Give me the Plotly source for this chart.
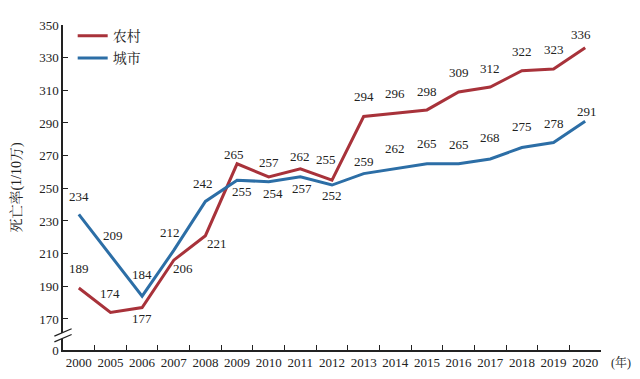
import plotly.graph_objects as go

years = ["2000", "2005", "2006", "2007", "2008", "2009", "2010", "2011", "2012",
         "2013", "2014", "2015", "2016", "2017", "2018", "2019", "2020"]
rural = [189, 174, 177, 206, 221, 265, 257, 262, 255, 294, 296, 298, 309, 312, 322, 323, 336]
urban = [234, 209, 184, 212, 242, 255, 254, 257, 252, 259, 262, 265, 265, 268, 275, 278, 291]
y_ticks = [170, 190, 210, 230, 250, 270, 290, 310, 330, 350]
rural_name = "农村"
urban_name = "城市"

# label offsets in pixels (dx, dy-up)
rural_off = [(0, 19), (0, 19), (0, -11), (9, -8), (12, -8), (-3, 9), (0, 14), (0, 12), (-6, 21),
             (0, 20), (0, 20), (0, 18), (0, 19), (0, 19), (0, 19), (0, 20), (-4, 13)]
urban_off = [(0, 18), (3, 20), (0, 22), (-4, 18), (-2, 18), (5, -11), (4, -12), (2, -12), (0, -10),
             (0, 12), (0, 20), (0, 20), (0, 19), (0, 21), (0, 21), (0, 19), (2, 10)]

RED = "#A8323A"
BLUE = "#2C6EA6"
FONT = "Liberation Serif, Noto Serif CJK SC, Noto Sans CJK SC, serif"
BREAK_POS = 151  # axis-break position of the "0" tick

fig = go.Figure()
fig.add_trace(go.Scatter(x=years, y=rural, mode="lines", name=rural_name,
                         line=dict(color=RED, width=3), legendgroup="a"))
fig.add_trace(go.Scatter(x=years, y=urban, mode="lines", name=urban_name,
                         line=dict(color=BLUE, width=3), legendgroup="b"))

ann = []
for ys, offs in ((rural, rural_off), (urban, urban_off)):
    for i, (v, (dx, dy)) in enumerate(zip(ys, offs)):
        ann.append(dict(x=i, y=v, text=str(v), showarrow=False, xshift=dx, yshift=dy,
                        font=dict(family=FONT, size=13, color="#222")))
ann.append(dict(xref="paper", yref="paper", x=1.0, y=0, xshift=8, yshift=-12, xanchor="left",
                yanchor="middle", text="(年)", showarrow=False,
                font=dict(family=FONT, size=12, color="#222")))

shapes = [
    dict(type="path", xref="paper", yref="y",
         path="M -0.016 156 L 0.016 160.5 L 0.016 164 L -0.016 159.5 Z",
         fillcolor="white", line=dict(width=0), layer="above"),
]
for base in (156, 159.5):
    shapes.append(dict(type="line", xref="paper", yref="y", x0=-0.016, x1=0.016,
                       y0=base, y1=base + 4.5, line=dict(color="#222", width=1.3), layer="above"))

fig.update_layout(
    width=632, height=371,
    margin=dict(l=55, r=39, t=17, b=29),
    paper_bgcolor="white", plot_bgcolor="white",
    font=dict(family=FONT, size=13, color="#222"),
    showlegend=True,
    legend=dict(x=0.018, y=1.015, xanchor="left", yanchor="top", traceorder="grouped",
                tracegroupgap=1, font=dict(family=FONT, size=14, color="#222"),
                bgcolor="rgba(0,0,0,0)"),
    xaxis=dict(type="category", range=[-0.5, 16.5], showline=True, linecolor="#222",
               linewidth=1.5, ticks="inside", ticklen=5, tickcolor="#222",
               tickson="boundaries", showgrid=False, zeroline=False, tickangle=0,
               automargin=False,
               tickfont=dict(family=FONT, size=13, color="#222")),
    yaxis=dict(range=[BREAK_POS, 350], showline=True, linecolor="#222", linewidth=1.5,
               ticks="inside", ticklen=5, tickcolor="#222", showgrid=False, zeroline=False,
               automargin=False,
               tickvals=[BREAK_POS] + y_ticks, ticktext=["0"] + [str(t) for t in y_ticks],
               tickfont=dict(family=FONT, size=13, color="#222"),
               title=dict(text="死亡率(1/10万)", font=dict(family=FONT, size=14, color="#222"),
                          standoff=14)),
    annotations=ann,
    shapes=shapes,
)

fig.write_html("out.html")
